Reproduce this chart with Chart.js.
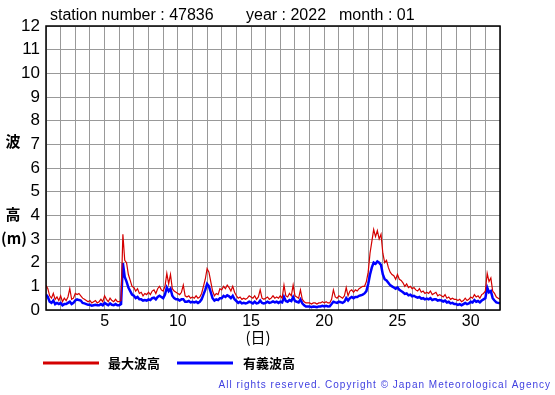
<!DOCTYPE html>
<html>
<head>
<meta charset="utf-8">
<script src="https://cdn.jsdelivr.net/npm/chart.js@4"></script>
<style>
  html, body { margin: 0; padding: 0; background: white; }
  #wrap { width: 555px; height: 395px; }
</style>
</head>
<body>
<div id="wrap"><canvas id="wave"></canvas></div>
<script>
// 3-hourly readings, Jan 1 00h .. Feb 1 00h (x = day of month)
var maxWave = [
  1.05, 0.9, 0.6, 0.5, 0.7, 0.45, 0.55, 0.4,
  0.6, 0.35, 0.5, 0.4, 0.55, 0.9, 0.45, 0.5,
  0.7, 0.65, 0.7, 0.6, 0.5, 0.45, 0.4, 0.35,
  0.4, 0.3, 0.35, 0.4, 0.3, 0.35, 0.45, 0.35,
  0.6, 0.45, 0.35, 0.5, 0.4, 0.35, 0.45, 0.35,
  0.35, 0.4, 3.2, 2.1, 2.0, 1.5, 1.25, 1.0,
  0.95, 0.8, 0.9, 0.7, 0.75, 0.6, 0.7, 0.65,
  0.75, 0.65, 0.8, 0.85, 0.7, 0.9, 1.0, 0.85,
  0.8, 1.0, 1.55, 1.1, 1.5, 0.9, 0.8, 0.75,
  0.7, 0.65, 0.75, 1.05, 0.6, 0.55, 0.6, 0.5,
  0.55, 0.5, 0.6, 0.5, 0.55, 0.7, 1.0, 1.3,
  1.75, 1.6, 1.2, 0.8, 0.6, 0.7, 0.65, 0.9,
  0.85, 1.0, 0.9, 1.05, 0.95, 0.8, 1.0, 0.75,
  0.6, 0.5, 0.55, 0.45, 0.5, 0.45, 0.5, 0.6,
  0.55, 0.5, 0.6, 0.45, 0.55, 0.85, 0.5, 0.45,
  0.5, 0.55, 0.45, 0.5, 0.6, 0.5, 0.55, 0.5,
  0.6, 0.5, 1.05, 0.6, 0.55, 0.7, 0.6, 1.05,
  0.6, 0.55, 0.5, 0.85, 0.45, 0.35, 0.3, 0.3,
  0.3, 0.25, 0.3, 0.3, 0.25, 0.3, 0.3, 0.35,
  0.3, 0.35, 0.3, 0.3, 0.45, 0.85, 0.55, 0.5,
  0.6, 0.55, 0.5, 0.6, 0.95, 0.6, 0.8, 0.85,
  0.75, 0.85, 0.8, 0.9, 0.95, 1.0, 1.0, 1.2,
  1.6, 2.4, 2.9, 3.4, 3.1, 3.35, 3.0, 3.2,
  2.4, 2.0, 2.1, 1.8, 1.6, 1.5, 1.45, 1.3,
  1.5, 1.3, 1.25, 1.15, 1.0, 1.1, 0.95, 1.0,
  0.9, 0.95, 0.85, 0.8, 0.9, 0.75, 0.8, 0.7,
  0.75, 0.7, 0.8, 0.65, 0.7, 0.75, 0.6, 0.65,
  0.6, 0.55, 0.65, 0.5, 0.55, 0.45, 0.5, 0.45,
  0.45, 0.4, 0.45, 0.35, 0.4, 0.5, 0.4, 0.45,
  0.55, 0.5, 0.65, 0.55, 0.6, 0.5, 0.65, 0.7,
  0.8, 1.55, 1.2, 1.35, 0.8, 0.7, 0.55, 0.5,
  0.45
];
var sigWave = [
  0.65, 0.55, 0.35, 0.3, 0.4, 0.25, 0.3, 0.25,
  0.3, 0.2, 0.25, 0.25, 0.3, 0.35, 0.25, 0.3,
  0.4, 0.45, 0.42, 0.4, 0.3, 0.28, 0.25, 0.22,
  0.22, 0.18, 0.2, 0.22, 0.2, 0.2, 0.25, 0.2,
  0.3, 0.25, 0.2, 0.28, 0.22, 0.2, 0.25, 0.2,
  0.2, 0.25, 1.98, 1.4, 1.2, 0.95, 0.8, 0.65,
  0.6, 0.5, 0.55, 0.45, 0.45, 0.4, 0.42, 0.4,
  0.45, 0.42, 0.5, 0.52, 0.45, 0.55, 0.6, 0.55,
  0.5, 0.65, 0.95, 0.8, 0.9, 0.6, 0.5, 0.45,
  0.45, 0.4, 0.45, 0.45, 0.35, 0.35, 0.38, 0.32,
  0.35, 0.32, 0.35, 0.3, 0.35, 0.45, 0.65, 0.85,
  1.1, 1.0, 0.75, 0.5, 0.4, 0.45, 0.42, 0.5,
  0.5, 0.6, 0.55, 0.62, 0.58, 0.5, 0.6, 0.45,
  0.38, 0.3, 0.35, 0.28, 0.3, 0.28, 0.3, 0.35,
  0.32, 0.28, 0.35, 0.28, 0.3, 0.4, 0.3, 0.28,
  0.3, 0.35, 0.3, 0.32, 0.36, 0.32, 0.35, 0.3,
  0.35, 0.32, 0.55, 0.38, 0.35, 0.42, 0.38, 0.55,
  0.38, 0.35, 0.32, 0.45, 0.28, 0.2, 0.15, 0.15,
  0.15, 0.12, 0.15, 0.14, 0.12, 0.15, 0.15, 0.18,
  0.15, 0.18, 0.15, 0.16, 0.25, 0.35, 0.32, 0.3,
  0.35, 0.33, 0.3, 0.35, 0.5, 0.4, 0.5, 0.55,
  0.5, 0.55, 0.55, 0.6, 0.62, 0.65, 0.7, 0.8,
  1.1, 1.5, 1.8, 2.0, 1.95, 2.05, 2.0, 1.9,
  1.5, 1.3, 1.25, 1.15, 1.05, 1.0, 0.95, 0.9,
  0.95, 0.85, 0.8, 0.75, 0.68, 0.7, 0.62, 0.65,
  0.58, 0.6, 0.55, 0.52, 0.55, 0.48, 0.5, 0.45,
  0.48, 0.45, 0.5, 0.42, 0.45, 0.45, 0.4, 0.42,
  0.4, 0.36, 0.4, 0.32, 0.35, 0.28, 0.3, 0.25,
  0.25, 0.22, 0.25, 0.2, 0.25, 0.3, 0.25, 0.28,
  0.35, 0.32, 0.42, 0.35, 0.38, 0.32, 0.4, 0.45,
  0.5, 0.95, 0.75, 0.8, 0.5, 0.4, 0.32, 0.3,
  0.28
];
var seriesNames = ['最大波高', '有義波高'];
var seriesColors = ['#d40000', '#0000ff'];
var titleParts = ['station number : 47836', 'year : 2022', 'month : 01'];
var xLabels = [5, 10, 15, 20, 25, 30];

function toPoints(arr) {
  return arr.map(function (v, i) { return {x: 1 + i / 8, y: v}; });
}

var FONT = '"Liberation Sans", Arial, sans-serif';
var CJK = '"Noto Sans CJK JP", sans-serif';

var extras = {
  id: 'extras',
  afterDraw: function (chart) {
    var ctx = chart.ctx, a = chart.chartArea;
    ctx.save();
    // frame
    ctx.strokeStyle = '#000';
    ctx.lineWidth = 1.5;
    ctx.strokeRect(a.left, a.top, a.right - a.left, a.bottom - a.top);
    ctx.fillStyle = '#000';
    // title
    ctx.font = '16px ' + FONT;
    ctx.textBaseline = 'middle';
    ctx.textAlign = 'left';
    var tx0 = [50, 246, 339];
    for (var k = 0; k < titleParts.length; k++) ctx.fillText(titleParts[k], tx0[k], 16);
    // y axis title
    ctx.font = 'bold 15px ' + CJK;
    ctx.textAlign = 'center';
    ctx.fillText('波', 13, 141);
    ctx.fillText('高', 13, 214);
    ctx.fillText('(m)', 14, 238);
    // x axis title
    ctx.font = '15px ' + CJK;
    ctx.fillText('(日)', 258, 337);
    // legend
    var lx = [43, 177], tx = [108, 243];
    ctx.lineWidth = 3;
    ctx.font = 'bold 13px ' + CJK;
    ctx.textAlign = 'left';
    for (var i = 0; i < 2; i++) {
      ctx.strokeStyle = seriesColors[i];
      ctx.beginPath();
      ctx.moveTo(lx[i], 363);
      ctx.lineTo(lx[i] + 56, 363);
      ctx.stroke();
      ctx.fillStyle = '#000';
      ctx.fillText(seriesNames[i], tx[i], 363);
    }
    // copyright
    ctx.fillStyle = '#3f3fe0';
    ctx.font = '10px ' + FONT;
    ctx.textAlign = 'right';
    try { ctx.letterSpacing = '1px'; } catch (e) {}
    ctx.fillText('All rights reserved. Copyright \u00a9 Japan Meteorological Agency', 551, 385);
    ctx.restore();
  }
};

new Chart(document.getElementById('wave'), {
  type: 'line',
  data: {
    datasets: [{
      label: seriesNames[0],
      data: toPoints(maxWave),
      borderColor: seriesColors[0],
      borderWidth: 1.2,
      pointRadius: 0,
      tension: 0
    }, {
      label: seriesNames[1],
      data: toPoints(sigWave),
      borderColor: seriesColors[1],
      borderWidth: 2.5,
      pointRadius: 0,
      tension: 0
    }]
  },
  options: {
    responsive: true,
    maintainAspectRatio: false,
    animation: false,
    layout: { padding: { left: 0, top: 26, right: 55, bottom: 60 } },
    plugins: {
      legend: { display: false },
      tooltip: { enabled: false }
    },
    scales: {
      x: {
        type: 'linear',
        min: 1,
        max: 32,
        grid: { color: '#999999', lineWidth: 1, drawTicks: false },
        border: { display: false },
        ticks: {
          stepSize: 1,
          autoSkip: false,
          maxRotation: 0,
          padding: 2,
          color: '#000',
          font: { family: FONT, size: 16 },
          callback: function (v) { return xLabels.indexOf(v) >= 0 ? String(v) : ''; }
        },
        afterFit: function (s) { s.height = 25; }
      },
      y: {
        min: 0,
        max: 12,
        grid: { color: '#999999', lineWidth: 1, drawTicks: false },
        border: { display: false },
        ticks: {
          stepSize: 1,
          padding: 6,
          color: '#000',
          font: { family: FONT, size: 17 }
        },
        afterFit: function (s) { s.width = 46; }
      }
    }
  },
  plugins: [extras]
});
</script>
</body>
</html>
